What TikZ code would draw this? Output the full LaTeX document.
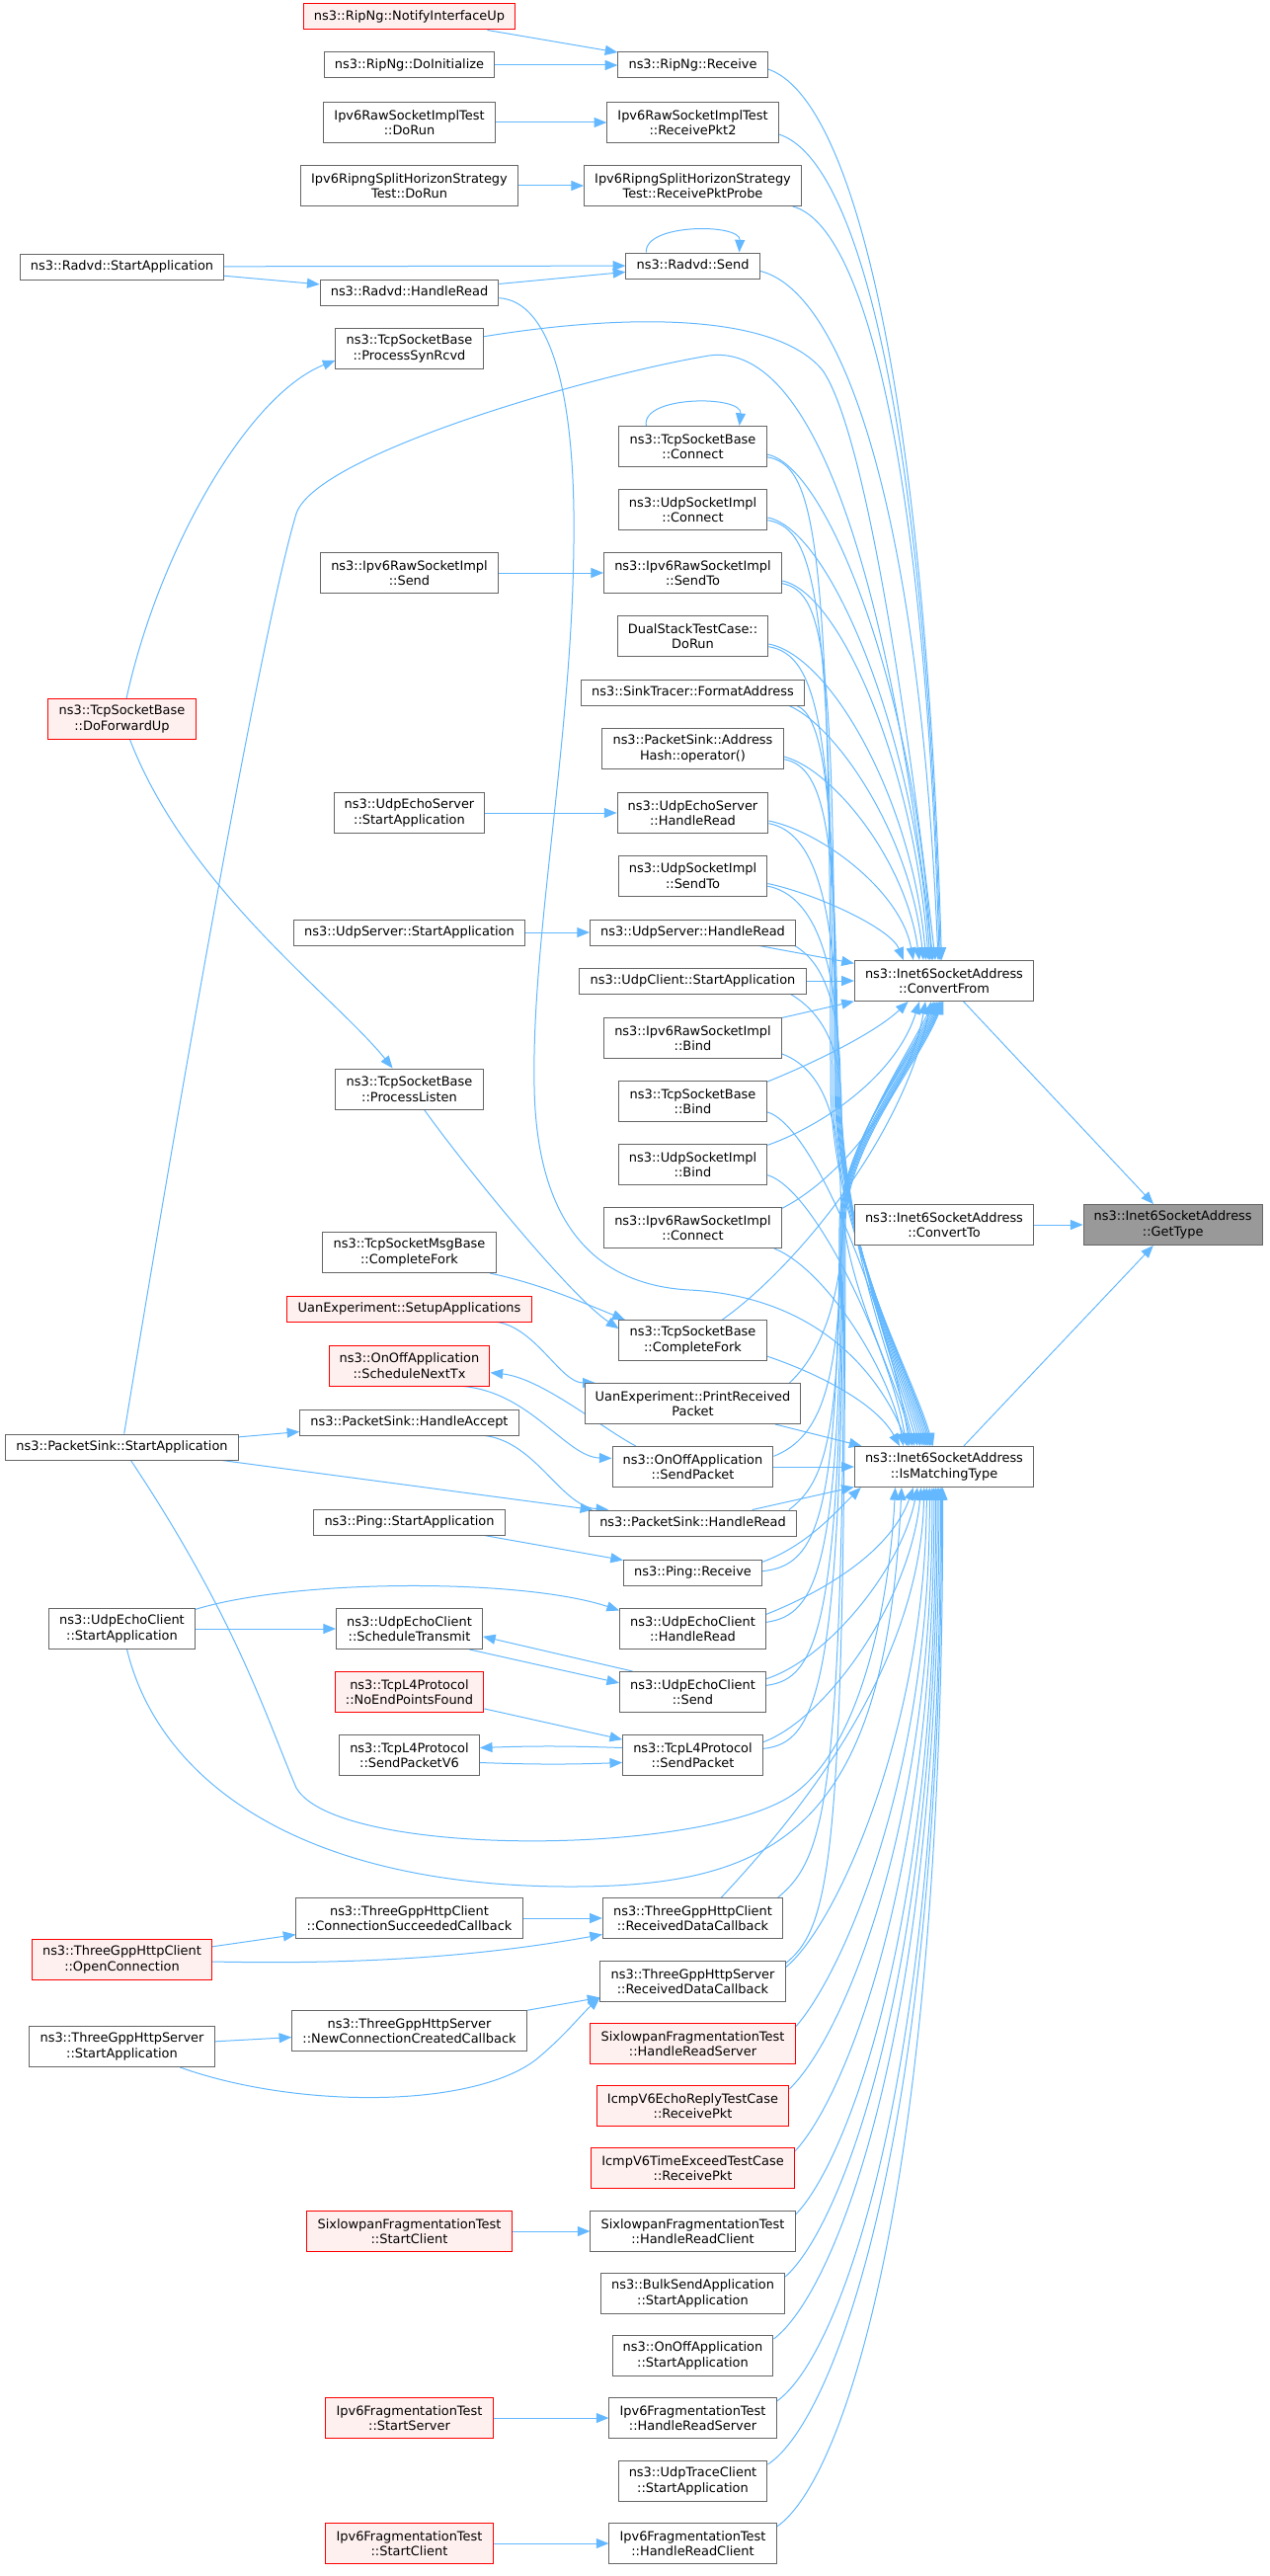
\documentclass[tikz,border=0pt]{standalone}
\usepackage{fontspec}
\setmainfont{DejaVu Sans}
\usetikzlibrary{arrows.meta}
\usetikzlibrary{backgrounds}
\definecolor{edgeblue}{HTML}{63B8FF}
\definecolor{boxline}{HTML}{666666}
\definecolor{truncfill}{HTML}{FFF0F0}
\definecolor{rootfill}{HTML}{999999}
\begin{document}
\begin{tikzpicture}[x=0.75pt,y=-0.75pt,
  fn/.style={draw=boxline,fill=white,line width=0.75pt,align=center,
    font=\fontsize{9.7}{11.6}\selectfont,inner xsep=8pt,inner ysep=0pt,
    minimum height=30.75pt},
  one/.style={minimum height=19.5pt,text height=7.4pt,text depth=2.3pt},
  trunc/.style={draw=red,fill=truncfill},
  focus/.style={fill=rootfill},
  call/.style={draw=edgeblue,line width=0.75pt,-{Triangle[length=9.5pt,width=7.5pt]}}]
\useasboundingbox (0,0) rectangle (1285,2608);

% left column
\node[fn,one] (radvdstart) at (123.5,270) {ns3::Radvd::StartApplication};
\node[fn,trunc] (fwdup) at (123.5,728) {ns3::TcpSocketBase\\::DoForwardUp};
\node[fn,one] (psstart) at (123.5,1465) {ns3::PacketSink::StartApplication};
\node[fn] (uecstart) at (123.5,1649) {ns3::UdpEchoClient\\::StartApplication};
\node[fn,trunc] (httpopen) at (123.5,1984) {ns3::ThreeGppHttpClient\\::OpenConnection};
\node[fn] (httpsrvstart) at (123.5,2072) {ns3::ThreeGppHttpServer\\::StartApplication};

% middle column
\node[fn,one,trunc] (notify) at (414.5,17) {ns3::RipNg::NotifyInterfaceUp};
\node[fn,one] (ripinit) at (414.5,66) {ns3::RipNg::DoInitialize};
\node[fn] (rawtestrun) at (414.5,124) {Ipv6RawSocketImplTest\\::DoRun};
\node[fn] (splitrun) at (414.5,188) {Ipv6RipngSplitHorizonStrategy\\Test::DoRun};
\node[fn,one] (radvdread) at (414.5,296) {ns3::Radvd::HandleRead};
\node[fn] (synrcvd) at (414.5,353) {ns3::TcpSocketBase\\::ProcessSynRcvd};
\node[fn] (rawsend) at (414.5,580) {ns3::Ipv6RawSocketImpl\\::Send};
\node[fn] (uesstart) at (414.5,823) {ns3::UdpEchoServer\\::StartApplication};
\node[fn,one] (usstart) at (414.5,944) {ns3::UdpServer::StartApplication};
\node[fn] (listen) at (414.5,1102.5) {ns3::TcpSocketBase\\::ProcessListen};
\node[fn] (msgfork) at (414.5,1268) {ns3::TcpSocketMsgBase\\::CompleteFork};
\node[fn,one,trunc] (uansetup) at (414.5,1325) {UanExperiment::SetupApplications};
\node[fn,trunc] (nexttx) at (414.5,1382.5) {ns3::OnOffApplication\\::ScheduleNextTx};
\node[fn,one] (psaccept) at (414.5,1440) {ns3::PacketSink::HandleAccept};
\node[fn,one] (pingstart) at (414.5,1541) {ns3::Ping::StartApplication};
\node[fn] (schedtx) at (414.5,1649) {ns3::UdpEchoClient\\::ScheduleTransmit};
\node[fn,trunc] (noendpt) at (414.5,1713) {ns3::TcpL4Protocol\\::NoEndPointsFound};
\node[fn] (sendv6) at (414.5,1777) {ns3::TcpL4Protocol\\::SendPacketV6};
\node[fn] (connok) at (414.5,1942) {ns3::ThreeGppHttpClient\\::ConnectionSucceededCallback};
\node[fn] (newconn) at (414.5,2056) {ns3::ThreeGppHttpServer\\::NewConnectionCreatedCallback};
\node[fn,trunc] (sixclient) at (414.5,2259) {SixlowpanFragmentationTest\\::StartClient};
\node[fn,trunc] (fragserver) at (414.5,2448) {Ipv6FragmentationTest\\::StartServer};
\node[fn,trunc] (fragclient) at (414.5,2575) {Ipv6FragmentationTest\\::StartClient};

% right column
\node[fn,one] (ripreceive) at (701.5,66) {ns3::RipNg::Receive};
\node[fn] (rawpkt2) at (701.5,124) {Ipv6RawSocketImplTest\\::ReceivePkt2};
\node[fn] (probe) at (701.5,188) {Ipv6RipngSplitHorizonStrategy\\Test::ReceivePktProbe};
\node[fn,one] (radvdsend) at (701.5,269) {ns3::Radvd::Send};
\node[fn] (tcpconnect) at (701.5,452) {ns3::TcpSocketBase\\::Connect};
\node[fn] (udpconnect) at (701.5,516) {ns3::UdpSocketImpl\\::Connect};
\node[fn] (rawsendto) at (701.5,580) {ns3::Ipv6RawSocketImpl\\::SendTo};
\node[fn] (dualrun) at (701.5,644) {DualStackTestCase::\\DoRun};
\node[fn,one] (sinkfmt) at (701.5,701) {ns3::SinkTracer::FormatAddress};
\node[fn] (hashop) at (701.5,758) {ns3::PacketSink::Address\\Hash::operator()};
\node[fn] (uesread) at (701.5,823) {ns3::UdpEchoServer\\::HandleRead};
\node[fn] (udpsendto) at (701.5,886.5) {ns3::UdpSocketImpl\\::SendTo};
\node[fn,one] (usread) at (701.5,944) {ns3::UdpServer::HandleRead};
\node[fn,one] (ucstart) at (701.5,993) {ns3::UdpClient::StartApplication};
\node[fn] (rawbind) at (701.5,1051) {ns3::Ipv6RawSocketImpl\\::Bind};
\node[fn] (tcpbind) at (701.5,1115) {ns3::TcpSocketBase\\::Bind};
\node[fn] (udpbind) at (701.5,1179) {ns3::UdpSocketImpl\\::Bind};
\node[fn] (rawconnect) at (701.5,1243) {ns3::Ipv6RawSocketImpl\\::Connect};
\node[fn] (tcpfork) at (701.5,1357) {ns3::TcpSocketBase\\::CompleteFork};
\node[fn] (uanprint) at (701.5,1421) {UanExperiment::PrintReceived\\Packet};
\node[fn] (onoffsend) at (701.5,1485) {ns3::OnOffApplication\\::SendPacket};
\node[fn,one] (psread) at (701.5,1542) {ns3::PacketSink::HandleRead};
\node[fn,one] (pingrecv) at (701.5,1592) {ns3::Ping::Receive};
\node[fn] (uecread) at (701.5,1649) {ns3::UdpEchoClient\\::HandleRead};
\node[fn] (uecsend) at (701.5,1713) {ns3::UdpEchoClient\\::Send};
\node[fn] (l4send) at (701.5,1777) {ns3::TcpL4Protocol\\::SendPacket};
\node[fn] (httpcrecv) at (701.5,1942) {ns3::ThreeGppHttpClient\\::ReceivedDataCallback};
\node[fn] (httpsrecv) at (701.5,2006) {ns3::ThreeGppHttpServer\\::ReceivedDataCallback};
\node[fn,trunc] (sixreadsrv) at (701.5,2069) {SixlowpanFragmentationTest\\::HandleReadServer};
\node[fn,trunc] (echoreply) at (701.5,2132) {IcmpV6EchoReplyTestCase\\::ReceivePkt};
\node[fn,trunc] (timeexceed) at (701.5,2195) {IcmpV6TimeExceedTestCase\\::ReceivePkt};
\node[fn] (sixreadcli) at (701.5,2259) {SixlowpanFragmentationTest\\::HandleReadClient};
\node[fn] (bulkstart) at (701.5,2322) {ns3::BulkSendApplication\\::StartApplication};
\node[fn] (onoffstart) at (701.5,2385) {ns3::OnOffApplication\\::StartApplication};
\node[fn] (fragreadsrv) at (701.5,2448) {Ipv6FragmentationTest\\::HandleReadServer};
\node[fn] (udptrace) at (701.5,2512) {ns3::UdpTraceClient\\::StartApplication};
\node[fn] (fragreadcli) at (701.5,2575) {Ipv6FragmentationTest\\::HandleReadClient};

% address functions
\node[fn] (cf) at (956,993) {ns3::Inet6SocketAddress\\::ConvertFrom};
\node[fn] (cto) at (956,1240) {ns3::Inet6SocketAddress\\::ConvertTo};
\node[fn] (imt) at (956,1485) {ns3::Inet6SocketAddress\\::IsMatchingType};
\node[fn,focus] (gettype) at (1187.7,1240) {ns3::Inet6SocketAddress\\::GetType};

\begin{scope}[on background layer]
% short calls
\draw[call] (notify) -- (ripreceive);
\draw[call] (ripinit) -- (ripreceive);
\draw[call] (rawtestrun) -- (rawpkt2);
\draw[call] (splitrun) -- (probe);
\draw[call] (radvdstart) -- (radvdsend);
\draw[call] (radvdstart) -- (radvdread);
\draw[call] (radvdread) -- (radvdsend);
\draw[call] (rawsend) -- (rawsendto);
\draw[call] (uesstart) -- (uesread);
\draw[call] (usstart) -- (usread);
\draw[call] (psstart) -- (psaccept);
\draw[call] (psstart) -- (psread);
\draw[call] (pingstart) -- (pingrecv);
\draw[call] (uecstart) -- (schedtx);
\draw[call] (noendpt) -- (l4send);
\draw[call] (httpopen) -- (connok);
\draw[call] (connok) -- (httpcrecv);
\draw[call] (httpsrvstart) -- (newconn);
\draw[call] (newconn) -- (httpsrecv);
\draw[call] (sixclient) -- (sixreadcli);
\draw[call] (fragserver) -- (fragreadsrv);
\draw[call] (fragclient) -- (fragreadcli);
\draw[call] (schedtx.-19) -- (uecsend.173);
\draw[call] (uecsend.161) -- (schedtx.-6);
\draw[call] (l4send.174) to[bend right=2] (sendv6.6);
\draw[call] (sendv6.-6) to[bend right=2] (l4send.186);
\draw[call] (radvdsend.164) .. controls (652,226) and (750,226) .. (radvdsend.16);
\draw[call] (tcpconnect.156) .. controls (649,400) and (752,400) .. (tcpconnect.24);
\draw[call] ([yshift=-1pt]uecstart.north east) .. controls (300,1598) and (530,1598) .. (uecread.166);
\draw[call] (fwdup) .. controls (160,560) and (250,400) .. (synrcvd.-171);
\draw[call] (fwdup) .. controls (190,900) and (340,1010) .. (listen);
\draw[call] (listen) .. controls (470,1180) and (577,1312) .. (tcpfork.171);
\draw[call] ([xshift=-5pt]msgfork.south east) .. controls (548,1300) and (588,1318) .. (tcpfork.163);
\draw[call] ([xshift=-26pt]uansetup.south east) .. controls (543,1345) and (568,1400) .. (uanprint.168);
\draw[call] (onoffsend.160) .. controls (608,1445) and (548,1395) .. (nexttx.-5);
\draw[call] (nexttx.-21) .. controls (538,1410) and (573,1475) .. (onoffsend.174);
\draw[call] ([xshift=-26pt]psaccept.south east) .. controls (543,1460) and (568,1525) .. (psread.171);
\draw[call] (httpopen) .. controls (400,1990) and (518,1975) .. (httpcrecv);
\draw[call] (httpsrvstart) .. controls (300,2135) and (478,2135) .. (543,2085)
  .. controls (573,2060) and (588,2040) .. (httpsrecv.-170);

% long calls
\draw[call] (radvdread) .. controls (558,305) and (583,400) .. (581,550)
  .. controls (579,750) and (538,950) .. (541,1100)
  .. controls (543,1220) and (588,1300) .. (698,1306)
  .. controls (818,1312) and (886,1380) .. (imt.150);
\draw[call] (psstart) .. controls (200,1000) and (270,620) .. (300,520)
  .. controls (320,460) and (598,380) .. (718,360)
  .. controls (828,345) and (902,600) .. (cf.118);
\draw[call] (synrcvd) .. controls (648,315) and (788,320) .. (833,375)
  .. controls (878,440) and (922,750) .. (cf.113);
\draw[call] (psstart) .. controls (240,1640) and (270,1740) .. (300,1810)
  .. controls (340,1880) and (698,1880) .. (798,1820)
  .. controls (878,1770) and (902,1600) .. (imt.-157);
\draw[call] (uecstart) .. controls (160,1800) and (300,1910) .. (578,1910)
  .. controls (788,1910) and (897,1850) .. (imt.-154);

% into ConvertFrom from above
\draw[call] ([yshift=-3pt]ripreceive.east) .. controls (865,99) and (937,400) .. (cf.97);
\draw[call] ([yshift=-9pt]rawpkt2.east) .. controls (871,162) and (937,437) .. (cf.100);
\draw[call] ([xshift=-7pt]probe.south east) .. controls (877,228) and (937,480) .. (cf.103);
\draw[call] ([yshift=-4pt]radvdsend.east) .. controls (857,296) and (932,530) .. (cf.106);
\draw[call] ([yshift=-6pt]tcpconnect.east) .. controls (841,472) and (929,716) .. (cf.121);
\draw[call] ([yshift=-6pt]udpconnect.east) .. controls (842,536) and (927,748) .. (cf.124);
\draw[call] ([yshift=-6pt]rawsendto.east) .. controls (852,600) and (926,780) .. (cf.127);
\draw[call] ([yshift=-6pt]dualrun.east) .. controls (842,664) and (924,812) .. (cf.131);
\draw[call] ([xshift=-12pt]sinkfmt.south east) .. controls (847,735) and (922,845) .. (cf.135);
\draw[call] ([yshift=-6pt]hashop.east) .. controls (842,778) and (917,870) .. (cf.140);
\draw[call] ([yshift=-6pt]uesread.east) .. controls (832,842) and (912,902) .. (cf.146);
\draw[call] ([yshift=-6pt]udpsendto.east) .. controls (827,905) and (902,940) .. (cf.153);
\draw[call] ([xshift=-28pt]usread.south east) -- (cf.169);
\draw[call] (ucstart) -- (cf);
\draw[call] (rawbind) -- (cf);

% into IsMatchingType from above
\draw[call] ([yshift=-8pt]tcpconnect.east) .. controls (826,471) and (841,543) .. (841,1100)
  .. controls (843,1250) and (924,1390) .. (imt.118);
\draw[call] ([yshift=-8pt]udpconnect.east) .. controls (827,535) and (843,607) .. (843,1100)
  .. controls (845,1250) and (922,1390) .. (imt.121);
\draw[call] ([yshift=-8pt]rawsendto.east) .. controls (837,599) and (845,671) .. (845,1100)
  .. controls (847,1250) and (921,1390) .. (imt.124);
\draw[call] ([yshift=-8pt]dualrun.east) .. controls (828,663) and (846,735) .. (846,1100)
  .. controls (848,1250) and (919,1390) .. (imt.127);
\draw[call] ([xshift=-6pt]sinkfmt.south east) .. controls (832,725) and (847,790) .. (847,1100)
  .. controls (849,1250) and (917,1390) .. (imt.130);
\draw[call] ([yshift=-8pt]hashop.east) .. controls (837,776) and (848,848) .. (848,1100)
  .. controls (850,1250) and (915,1390) .. (imt.133);
\draw[call] ([yshift=-8pt]uesread.east) .. controls (822,842) and (849,905) .. (849,1100)
  .. controls (851,1250) and (913,1390) .. (imt.136);
\draw[call] ([yshift=-8pt]udpsendto.east) .. controls (819,905) and (850,960) .. (850,1100)
  .. controls (852,1250) and (911,1390) .. (imt.139);
\draw[call] ([xshift=-1pt]usread.south east) .. controls (835,975) and (851,1020) .. (851,1100)
  .. controls (853,1250) and (909,1390) .. (imt.142);
\draw[call] ([xshift=-12pt]ucstart.south east) .. controls (832,1025) and (852,1060) .. (852,1120)
  .. controls (854,1260) and (907,1390) .. (imt.145);
\draw[call] ([yshift=-12pt]rawbind.east) .. controls (827,1080) and (849,1120) .. (851,1200)
  .. controls (853,1300) and (907,1390) .. (imt.147);
\draw[call] ([yshift=-8pt]tcpbind.east) .. controls (827,1140) and (902,1340) .. (imt.149);
\draw[call] ([yshift=-8pt]udpbind.east) .. controls (827,1205) and (902,1370) .. (imt.151);
\draw[call] ([xshift=-6pt]rawconnect.south east) .. controls (837,1285) and (902,1390) .. (imt.153);
\draw[call] ([yshift=-12pt]tcpfork.east) .. controls (827,1390) and (887,1420) .. (imt.155);
\draw[call] (uanprint) -- (imt);
\draw[call] (onoffsend) -- (imt);
\draw[call] (psread) -- (imt);

% into ConvertFrom from below
\draw[call] ([yshift=-1pt]tcpbind.north east) .. controls (827,1075) and (887,1045) .. (cf.-150);
\draw[call] ([yshift=-1pt]udpbind.north east) .. controls (832,1140) and (907,1090) .. (cf.-140);
\draw[call] ([yshift=-1pt]rawconnect.north east) .. controls (857,1190) and (922,1100) .. (cf.-132);
\draw[call] (tcpfork) .. controls (797,1290) and (912,1160) .. (cf.-122);
\draw[call] ([xshift=-9pt]uanprint.north east) .. controls (842,1360) and (852,1290) .. (854,1240)
  .. controls (856,1160) and (912,1080) .. (cf.-116);
\draw[call] ([yshift=8pt]onoffsend.east) .. controls (832,1455) and (851,1400) .. (852,1240)
  .. controls (853,1160) and (915,1080) .. (cf.-112);
\draw[call] ([xshift=-6pt]psread.north east) .. controls (837,1500) and (850,1450) .. (851,1240)
  .. controls (852,1160) and (917,1080) .. (cf.-108);
\draw[call] ([yshift=1pt]pingrecv.east) .. controls (827,1585) and (849,1540) .. (850,1240)
  .. controls (851,1160) and (919,1080) .. (cf.-104);
\draw[call] ([yshift=5pt]uecread.east) .. controls (827,1635) and (851,1590) .. (852,1240)
  .. controls (853,1160) and (921,1080) .. (cf.-101);
\draw[call] ([yshift=5pt]uecsend.east) .. controls (827,1700) and (852,1650) .. (853,1240)
  .. controls (854,1160) and (923,1080) .. (cf.-98);
\draw[call] ([yshift=5pt]l4send.east) .. controls (827,1765) and (853,1710) .. (854,1240)
  .. controls (855,1160) and (925,1080) .. (cf.-96);
\draw[call] ([xshift=-4pt]httpcrecv.north east) .. controls (837,1880) and (854,1820) .. (855,1240)
  .. controls (856,1160) and (927,1080) .. (cf.-94);
\draw[call] ([yshift=-2pt]httpsrecv.north east) .. controls (842,1950) and (855,1880) .. (856,1240)
  .. controls (857,1160) and (929,1080) .. (cf.-92);

% into IsMatchingType from below
\draw[call] ([yshift=8pt]pingrecv.east) .. controls (817,1565) and (847,1530) .. (imt.-166);
\draw[call] ([yshift=11pt]uecread.east) .. controls (837,1610) and (902,1570) .. (imt.-146);
\draw[call] ([yshift=10pt]uecsend.east) .. controls (837,1680) and (912,1590) .. (imt.-142);
\draw[call] ([yshift=10pt]l4send.east) .. controls (837,1740) and (922,1620) .. (imt.-138);
\draw[call] ([xshift=-47pt]httpcrecv.north east) .. controls (787,1860) and (932,1700) .. (imt.-134);
\draw[call] ([yshift=-5pt]httpsrecv.north east) .. controls (847,1950) and (937,1750) .. (imt.-130);
\draw[call] ([yshift=-3pt]sixreadsrv.north east) .. controls (852,2000) and (942,1800) .. (imt.-125);
\draw[call] ([yshift=-3pt]echoreply.north east) .. controls (852,2065) and (945,1850) .. (imt.-120);
\draw[call] ([yshift=-3pt]timeexceed.north east) .. controls (855,2125) and (947,1900) .. (imt.-116);
\draw[call] ([yshift=-3pt]sixreadcli.north east) .. controls (857,2190) and (949,1950) .. (imt.-112);
\draw[call] ([yshift=-3pt]bulkstart.north east) .. controls (852,2255) and (950,2000) .. (imt.-108);
\draw[call] ([yshift=-3pt]onoffstart.north east) .. controls (847,2320) and (952,2050) .. (imt.-104);
\draw[call] ([yshift=-3pt]fragreadsrv.north east) .. controls (852,2385) and (954,2100) .. (imt.-100);
\draw[call] ([yshift=-3pt]udptrace.north east) .. controls (847,2450) and (955,2150) .. (imt.-97);
\draw[call] ([yshift=-3pt]fragreadcli.north east) .. controls (857,2510) and (956,2200) .. (imt.-94);

% into GetType
\draw[call] (cf) -- (gettype);
\draw[call] (cto) -- (gettype);
\draw[call] (imt) -- (gettype);
\end{scope}
\end{tikzpicture}
\end{document}
